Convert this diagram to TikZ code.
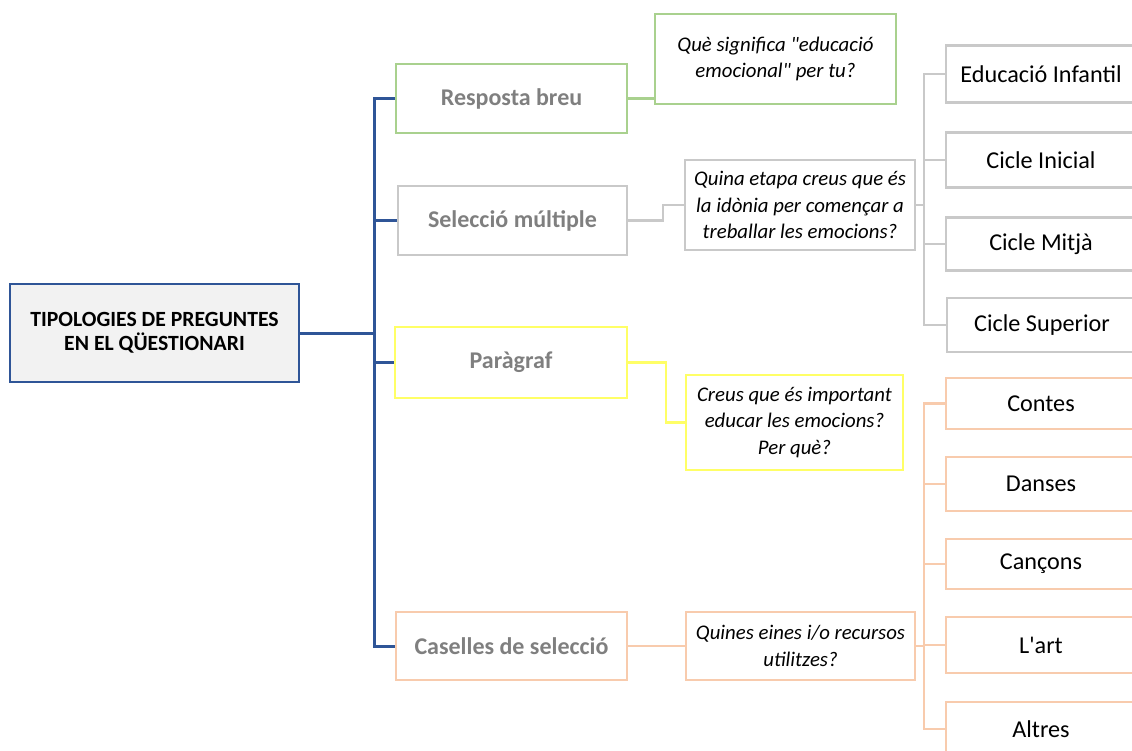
\documentclass[tikz,border=0pt]{standalone}
\usepackage{fontspec}
\setmainfont{Carlito}
\definecolor{bblue}{HTML}{2F5597}
\definecolor{lgreen}{HTML}{A9D18E}
\definecolor{lgray}{HTML}{C9C9C9}
\definecolor{lyellow}{HTML}{FFFF66}
\definecolor{lorange}{HTML}{F8CBAD}
\definecolor{tgray}{HTML}{7F7F7F}
\definecolor{rootfill}{HTML}{F2F2F2}
\begin{document}
\begin{tikzpicture}[x=1pt,y=-1pt,
  box/.style={draw,line width=2.4pt,inner sep=0pt,align=center,anchor=center},
  rootbox/.style={box,draw=bblue,fill=rootfill,font=\fontsize{21.7}{24}\selectfont\bfseries},
  lvl/.style={box,text=tgray,font=\fontsize{24}{28}\selectfont\bfseries},
  ques/.style={box,font=\fontsize{20.8}{26.5}\selectfont\itshape},
  leaf/.style={box,font=\fontsize{24.2}{28}\selectfont},
  bline/.style={draw=bblue,line width=3pt},
  cline/.style={line width=2.4pt}]
\useasboundingbox (0,0) rectangle (1132,751);
% root
\node[rootbox,minimum width=289pt,minimum height=98pt] (root) at (154.5,333) {TIPOLOGIES DE PREGUNTES\\EN EL QÜESTIONARI};
% level 1
\node[lvl,draw=lgreen,minimum width=231pt,minimum height=69pt] (resp) at (511.5,98.5) {Resposta breu};
\node[lvl,draw=lgray,minimum width=229pt,minimum height=69pt] (selm) at (512.5,220.5) {Selecció múltiple};
\node[lvl,draw=lyellow,minimum width=232pt,minimum height=71pt] (parag) at (511,362.5) {Paràgraf};
\node[lvl,draw=lorange,minimum width=231pt,minimum height=68pt] (cas) at (511.5,646) {Caselles de selecció};
% questions
\node[ques,draw=lgreen,minimum width=241pt,minimum height=90pt] (q1) at (775.5,59) {Què significa \textquotedbl educació\\emocional\textquotedbl{} per tu?};
\node[ques,draw=lgray,minimum width=230pt,minimum height=90pt] (q2) at (800,205) {Quina etapa creus que és\\la idònia per començar a\\treballar les emocions?};
\node[ques,draw=lyellow,minimum width=217pt,minimum height=95pt] (q3) at (794.5,422.5) {Creus que és important\\educar les emocions?\\Per què?};
\node[ques,draw=lorange,minimum width=229pt,minimum height=68pt] (q4) at (800.5,646) {Quines eines i/o recursos\\utilitzes?};
% gray leaves
\node[leaf,draw=lgray,minimum width=190pt,minimum height=57pt] (ei) at (1041,74) {Educació Infantil};
\node[leaf,draw=lgray,minimum width=190pt,minimum height=55pt] (ci) at (1041,160) {Cicle Inicial};
\node[leaf,draw=lgray,minimum width=190pt,minimum height=53pt] (cm) at (1041,244) {Cicle Mitjà};
\node[leaf,draw=lgray,minimum width=190pt,minimum height=54pt] (cs) at (1042,325) {Cicle Superior};
% orange leaves
\node[leaf,draw=lorange,minimum width=190pt,minimum height=51pt] (co) at (1041,403.5) {Contes};
\node[leaf,draw=lorange,minimum width=190pt,minimum height=54pt] (da) at (1041,484) {Danses};
\node[leaf,draw=lorange,minimum width=190pt,minimum height=50pt] (ca) at (1041,564) {Cançons};
\node[leaf,draw=lorange,minimum width=190pt,minimum height=56pt] (la) at (1041,645) {L\textquotesingle art};
\node[leaf,draw=lorange,minimum width=190pt,minimum height=54pt] (al) at (1041,729) {Altres};
% blue connectors
\coordinate (bbus) at (374,333);
\draw[bline] (root.east) -- (bbus);
\draw[bline] (bbus) |- (resp.west);
\draw[bline] (bbus) |- (selm.west);
\draw[bline] (bbus) |- (parag.west);
\draw[bline] (bbus) |- (cas.west);
% level1 -> question
\draw[cline,draw=lgreen] (resp.east) -- (q1.west |- resp.east);
\draw[cline,draw=lgray] (selm.east) -- ++(35,0) |- (q2.west);
\draw[cline,draw=lyellow] (parag.east) -- ++(38,0) |- (q3.west);
\draw[cline,draw=lorange] (cas.east) -- (q4.west);
% question -> leaves
\coordinate (gbus) at (924,205);
\draw[cline,draw=lgray] (q2.east) -- (gbus);
\foreach \n in {ei,ci,cm,cs} \draw[cline,draw=lgray] (gbus) |- (\n.west);
\coordinate (obus) at (924,646);
\draw[cline,draw=lorange] (q4.east) -- (obus);
\foreach \n in {co,da,ca,la,al} \draw[cline,draw=lorange] (obus) |- (\n.west);
\end{tikzpicture}
\end{document}
